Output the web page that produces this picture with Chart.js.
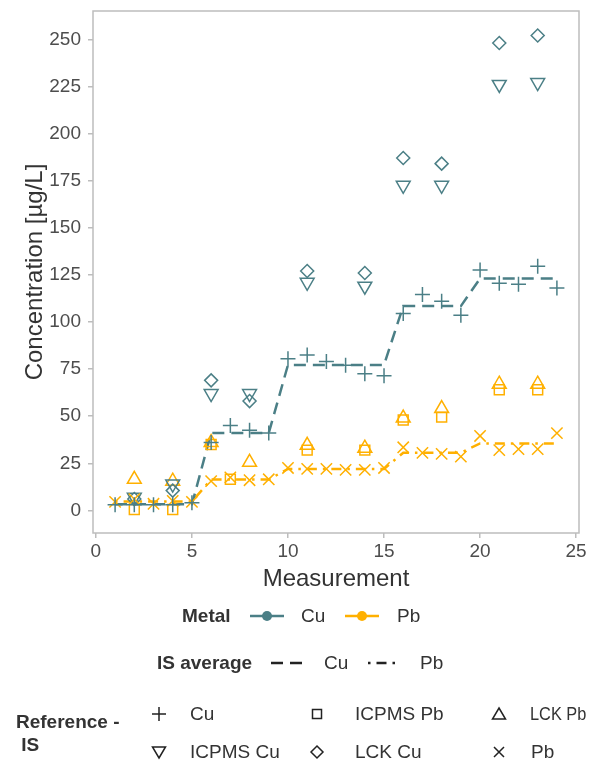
<!DOCTYPE html>
<html>
<head>
<meta charset="utf-8">
<script src="https://cdn.jsdelivr.net/npm/chart.js@4.4.1/dist/chart.umd.min.js"></script>
<style>
body { margin: 0; background: #fff; font-family: "Liberation Sans", Arial, sans-serif; color: #333; }
#wrap { position: relative; width: 595px; height: 764px; }
#c { position: absolute; left: 0; top: 0; }
.lg { position: absolute; font-size: 19px; line-height: 22px; white-space: nowrap; transform: translateY(-50%); }
.b { font-weight: bold; }
.narrow { transform: translateY(-50%) scaleX(0.86); transform-origin: left center; }
svg.sym { position: absolute; overflow: visible; }
</style>
</head>
<body>
<div id="wrap">
  <canvas id="c" width="595" height="764"></canvas>
  <div id="legend"></div>
</div>
<script>
const measurement = [1, 2, 3, 4, 5, 6, 7, 8, 9, 10, 11, 12, 13, 14, 15, 16, 17, 18, 19, 20, 21, 22, 23, 24];
const cuIS = [3, 3, 3, 3, 4, 36, 45, 42.5, 41, 80.5, 82.5, 79, 77, 72.5, 71.5, 104.5, 114.5, 111, 103.5, 127.5, 120.5, 120, 129.5, 118];
const pbIS = [4.5, 6, 3.5, 5, 4.5, 15.5, 17.5, 16, 16.5, 22.5, 22, 22, 21.5, 21.5, 22.5, 33.5, 30.5, 30, 28.5, 39.5, 32, 32.5, 32.5, 41];
const cuAvg = [3.2, 3.2, 3.2, 3.2, 3.2, 41.1, 41.1, 41.1, 41.1, 77.2, 77.2, 77.2, 77.2, 77.2, 77.2, 108.4, 108.4, 108.4, 108.4, 123.1, 123.1, 123.1, 123.1, 123.1];
const pbAvg = [4.7, 4.7, 4.7, 4.7, 4.7, 16.4, 16.4, 16.4, 16.4, 22, 22, 22, 22, 22, 22, 30.6, 30.6, 30.6, 30.6, 35.5, 35.5, 35.5, 35.5, 35.5];

// reference measurements
const refX = [2, 4, 6, 8, 11, 14, 16, 18, 21, 23];
const icpmsPbX = [2, 4, 6, 7, 11, 14, 16, 18, 21, 23];
const icpmsCu = [7, 14, 62, 62, 121, 119, 172.5, 172.5, 226, 227];
const lckCu = [6, 10.5, 69, 58, 127, 126, 187, 184, 248, 252];
const icpmsPb = [0.5, 0.5, 35, 16.5, 32, 32, 48, 49.5, 64, 64];
const lckPb = [16.5, 15.5, 36, 25.5, 34.5, 33, 49, 54, 67, 67];

const xTicks = [0, 5, 10, 15, 20, 25];
const yTicks = [0, 25, 50, 75, 100, 125, 150, 175, 200, 225, 250];

const CU = '#4B7F86';
const PB = '#FFB000';
const GREY = '#BDBDBD';

const pts = (xs, ys) => xs.map((x, i) => ({ x: x, y: ys[i] }));

function markers(label, data, color, style, radius, rotation) {
    return {
        label: label,
        data: data,
        showLine: false,
        pointStyle: style,
        pointRadius: radius,
        pointRotation: rotation || 0,
        pointBorderColor: color,
        pointBackgroundColor: 'rgba(0,0,0,0)',
        pointBorderWidth: 1.5,
        order: 1
    };
}

// border around the plot panel
const panelBox = {
    id: 'panelBox',
    afterDatasetsDraw(chart) {
        const a = chart.chartArea;
        const ctx = chart.ctx;
        ctx.save();
        ctx.strokeStyle = GREY;
        ctx.lineWidth = 1.5;
        ctx.strokeRect(a.left, a.top, a.right - a.left, a.bottom - a.top);
        ctx.restore();
    }
};

new Chart(document.getElementById('c'), {
    type: 'scatter',
    data: {
        datasets: [
            {
                label: 'IS average Cu',
                data: pts(measurement, cuAvg),
                showLine: true,
                borderColor: CU,
                borderWidth: 2.5,
                borderDash: [12, 7],
                pointRadius: 0,
                order: 5
            },
            {
                label: 'IS average Pb',
                data: pts(measurement, pbAvg),
                showLine: true,
                borderColor: PB,
                borderWidth: 2.5,
                borderDash: [2.5, 6, 10, 6],
                pointRadius: 0,
                order: 5
            },
            markers('Cu', pts(measurement, cuIS), CU, 'cross', 7.5),
            markers('Pb', pts(measurement, pbIS), PB, 'crossRot', 8),
            markers('ICPMS Cu', pts(refX, icpmsCu), CU, 'triangle', 8, 180),
            markers('LCK Cu', pts(refX, lckCu), CU, 'rectRot', 6.5),
            markers('ICPMS Pb', pts(icpmsPbX, icpmsPb), PB, 'rect', 7),
            markers('LCK Pb', pts(refX, lckPb), PB, 'triangle', 8)
        ]
    },
    options: {
        responsive: false,
        animation: false,
        layout: { padding: { left: 13, top: 11, right: 16, bottom: 166 } },
        plugins: { legend: { display: false }, tooltip: { enabled: false } },
        scales: {
            x: {
                type: 'linear',
                min: -0.15,
                max: 25.15,
                afterBuildTicks: s => { s.ticks = xTicks.map(v => ({ value: v })); },
                afterFit: s => { s.height = 65; s.paddingLeft = 0; s.paddingRight = 0; },
                border: { display: false },
                grid: { drawOnChartArea: false, drawTicks: true, tickLength: 5, color: GREY, lineWidth: 1.5 },
                ticks: { color: '#4D4D4D', font: { family: 'Liberation Sans', size: 19 }, padding: 2, maxRotation: 0 },
                title: { display: true, text: 'Measurement', color: '#333', font: { family: 'Liberation Sans', size: 24 } }
            },
            y: {
                type: 'linear',
                min: -12,
                max: 265,
                afterBuildTicks: s => { s.ticks = yTicks.map(v => ({ value: v })); },
                afterFit: s => { s.width = 80; s.paddingTop = 0; s.paddingBottom = 0; },
                border: { display: false },
                grid: { drawOnChartArea: false, drawTicks: true, tickLength: 5, color: GREY, lineWidth: 1.5 },
                ticks: { color: '#4D4D4D', font: { family: 'Liberation Sans', size: 19 }, padding: 7 },
                title: { display: true, text: 'Concentration [µg/L]', color: '#333', font: { family: 'Liberation Sans', size: 24 }, padding: { top: 8, bottom: 4 } }
            }
        }
    },
    plugins: [panelBox]
});

// legend below the plot
const legend = document.getElementById('legend');

function addText(txt, x, y, cls) {
    const d = document.createElement('div');
    d.className = 'lg' + (cls ? ' ' + cls : '');
    d.style.left = x + 'px';
    d.style.top = y + 'px';
    d.innerHTML = txt;
    legend.appendChild(d);
}

function addSym(cx, cy, w, h, inner) {
    const ns = 'http://www.w3.org/2000/svg';
    const s = document.createElementNS(ns, 'svg');
    s.setAttribute('class', 'sym');
    s.setAttribute('width', w);
    s.setAttribute('height', h);
    s.setAttribute('viewBox', (-w / 2) + ' ' + (-h / 2) + ' ' + w + ' ' + h);
    s.style.left = (cx - w / 2) + 'px';
    s.style.top = (cy - h / 2) + 'px';
    s.innerHTML = inner;
    legend.appendChild(s);
}

const ink = 'stroke="#222" stroke-width="1.5" fill="none"';

// Metal
addText('Metal', 182, 616, 'b');
addSym(267, 616, 36, 14, '<line x1="-17" y1="0" x2="17" y2="0" stroke="' + CU + '" stroke-width="2.5"/><circle cx="0" cy="0" r="5" fill="' + CU + '"/>');
addText('Cu', 301, 616);
addSym(362, 616, 36, 14, '<line x1="-17" y1="0" x2="17" y2="0" stroke="' + PB + '" stroke-width="2.5"/><circle cx="0" cy="0" r="5" fill="' + PB + '"/>');
addText('Pb', 397, 616);

// IS average
addText('IS average', 157, 663, 'b');
addSym(288, 663, 36, 10, '<line x1="-17" y1="0" x2="17" y2="0" stroke="#222" stroke-width="2.5" stroke-dasharray="12 7"/>');
addText('Cu', 324, 663);
addSym(383, 663, 36, 10, '<line x1="-15" y1="0" x2="15" y2="0" stroke="#222" stroke-width="2.5" stroke-dasharray="2.5 6 10 6"/>');
addText('Pb', 420, 663);

// Reference - IS
addText('Reference -', 16, 722, 'b');
addText('&nbsp;IS', 16, 745, 'b');
addSym(159, 714, 16, 16, '<path d="M-7 0H7M0 -7V7" ' + ink + '/>');
addText('Cu', 190, 714);
addSym(317, 714, 12, 12, '<rect x="-4.5" y="-4.5" width="9" height="9" ' + ink + '/>');
addText('ICPMS Pb', 355, 714);
addSym(499, 714, 14, 14, '<path d="M0 -6L6.5 5H-6.5Z" ' + ink + '/>');
addText('LCK Pb', 530, 714, 'narrow');
addSym(159, 752, 14, 14, '<path d="M0 6L6.5 -5H-6.5Z" ' + ink + '/>');
addText('ICPMS Cu', 190, 752);
addSym(317, 752, 14, 14, '<path d="M0 -6L6 0L0 6L-6 0Z" ' + ink + '/>');
addText('LCK Cu', 355, 752);
addSym(499, 752, 12, 12, '<path d="M-5 -5L5 5M5 -5L-5 5" ' + ink + '/>');
addText('Pb', 531, 752);
</script>
</body>
</html>
